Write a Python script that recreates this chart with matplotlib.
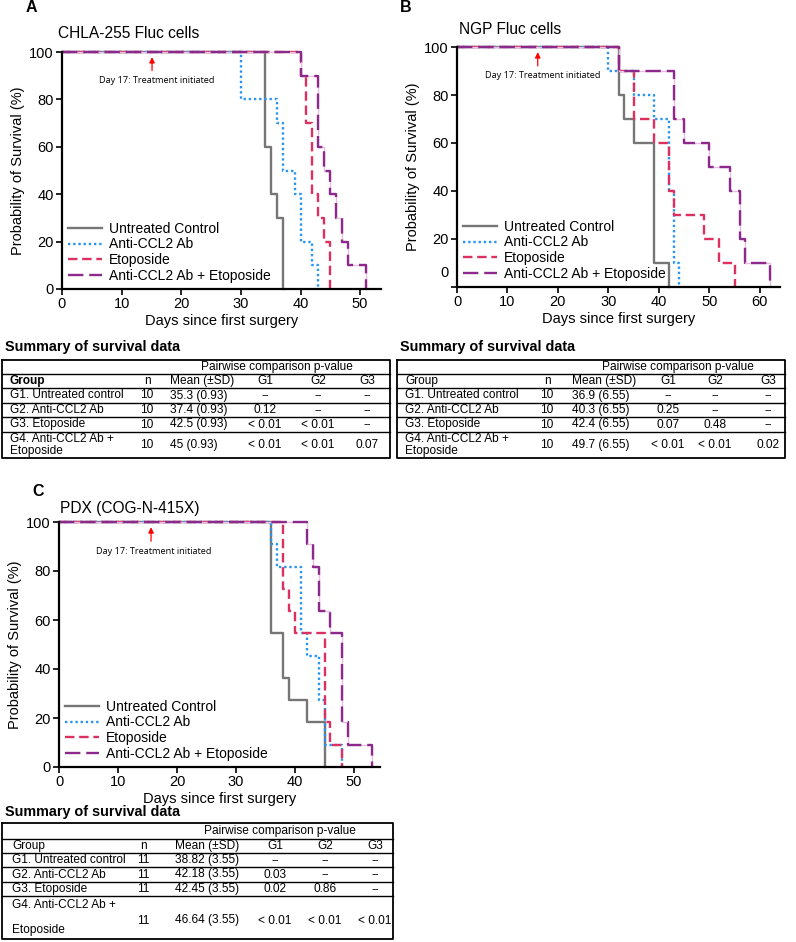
"""
Kaplan-Meier survival plots (3 models) + summary tables.
"""
import matplotlib.pyplot as plt
import matplotlib.transforms as mtransforms

plt.rcParams['font.family'] = ['Liberation Sans', 'DejaVu Sans']

# ── Data: survival steps (day, % surviving) ─────────────────────────────────
# Panel A - CHLA-255 Fluc cells
A_days_ctrl = [0, 34, 35, 36, 37]
A_surv_ctrl = [100, 60, 40, 30, 0]
A_days_ab = [0, 30, 36, 37, 39, 40, 42, 43]
A_surv_ab = [100, 80, 70, 50, 40, 20, 10, 0]
A_days_eto = [0, 40, 41, 42, 43, 44, 45]
A_surv_eto = [100, 90, 70, 40, 30, 20, 0]
A_days_combo = [0, 40, 43, 44, 45, 46, 47, 48, 51]
A_surv_combo = [100, 90, 60, 50, 40, 30, 20, 10, 0]

# Panel B - NGP Fluc cells
B_days_ctrl = [0, 32, 33, 35, 39, 42]
B_surv_ctrl = [100, 80, 70, 60, 10, 0]
B_days_ab = [0, 30, 35, 39, 42, 43, 44]
B_surv_ab = [100, 90, 80, 70, 40, 10, 0]
B_days_eto = [0, 32, 35, 39, 42, 43, 49, 52, 55]
B_surv_eto = [100, 90, 70, 60, 40, 30, 20, 10, 0]
B_days_combo = [0, 32, 43, 45, 50, 54, 56, 57, 62]
B_surv_combo = [100, 90, 70, 60, 50, 40, 20, 10, 0]

# Panel C - PDX (COG-N-415X), n = 11
C_days_ctrl = [0, 36, 38, 39, 42, 45]
C_surv_ctrl = [100, 54.5, 36.4, 27.3, 18.2, 0]
C_days_ab = [0, 36, 37, 41, 42, 44, 45, 48]
C_surv_ab = [100, 90.9, 81.8, 54.5, 45.5, 27.3, 9.1, 0]
C_days_eto = [0, 38, 39, 40, 45, 46, 48]
C_surv_eto = [100, 72.7, 63.6, 54.5, 18.2, 9.1, 0]
C_days_combo = [0, 42, 43, 44, 46, 48, 49, 53]
C_surv_combo = [100, 90.9, 81.8, 63.6, 54.5, 18.2, 9.1, 0]

group_labels = ["Untreated Control", "Anti-CCL2 Ab", "Etoposide",
                "Anti-CCL2 Ab + Etoposide"]
x_ticks = [0, 10, 20, 30, 40, 50]
x_ticks_B = [0, 10, 20, 30, 40, 50, 60]
y_ticks = [0, 20, 40, 60, 80, 100]

# ── Data: summary tables ─────────────────────────────────────────────────────
table_header = ["Group", "n", "Mean (\u00b1SD)", "G1", "G2", "G3"]
A_rows = [
    ["G1. Untreated control", "10", "35.3 (0.93)", "--", "--", "--"],
    ["G2. Anti-CCL2 Ab", "10", "37.4 (0.93)", "0.12", "--", "--"],
    ["G3. Etoposide", "10", "42.5 (0.93)", "< 0.01", "< 0.01", "--"],
    ["G4. Anti-CCL2 Ab +\nEtoposide", "10", "45 (0.93)", "< 0.01", "< 0.01", "0.07"],
]
B_rows = [
    ["G1. Untreated control", "10", "36.9 (6.55)", "--", "--", "--"],
    ["G2. Anti-CCL2 Ab", "10", "40.3 (6.55)", "0.25", "--", "--"],
    ["G3. Etoposide", "10", "42.4 (6.55)", "0.07", "0.48", "--"],
    ["G4. Anti-CCL2 Ab +\nEtoposide", "10", "49.7 (6.55)", "< 0.01", "< 0.01", "0.02"],
]
C_rows = [
    ["G1. Untreated control", "11", "38.82 (3.55)", "--", "--", "--"],
    ["G2. Anti-CCL2 Ab", "11", "42.18 (3.55)", "0.03", "--", "--"],
    ["G3. Etoposide", "11", "42.45 (3.55)", "0.02", "0.86", "--"],
    ["G4. Anti-CCL2 Ab +\nEtoposide", "11", "46.64 (3.55)", "< 0.01", "< 0.01", "< 0.01"],
]

# ── Styles ───────────────────────────────────────────────────────────────────
colors = ["#767676", "#2a95f0", "#dc3060", "#8c2a8c"]
styles = ["-", (0, (1, 1.2)), (0, (4, 2)), (0, (6.5, 2.5))]
W, H = 796, 942

fig = plt.figure(figsize=(W / 100, H / 100), dpi=100)


def px_axes(left, top, right, bottom):
    return fig.add_axes([left / W, 1 - bottom / H, (right - left) / W, (bottom - top) / H])


def km_panel(ax, curves, xmax, xticks, arrow_x, text_x):
    handles = []
    for k, ((days, surv), c, ls) in enumerate(zip(curves, colors, styles)):
        if k == 3:
            # faint dot between the long purple dashes
            ax.step(days, surv, where="post", color="#e6bfe0", lw=1.0,
                    clip_on=False)
        h, = ax.step(days, surv, where="post", color=c, linestyle=ls, lw=1.7,
                     clip_on=False)
        handles.append(h)
    ax.set_xlim(0, xmax)
    ax.set_ylim(0, 100)
    ax.set_xticks(xticks)
    ax.set_yticks(y_ticks)
    ax.tick_params(labelsize=10.5, width=1.2, length=4, pad=2)
    for s in ["top", "right"]:
        ax.spines[s].set_visible(False)
    for s in ["left", "bottom"]:
        ax.spines[s].set_linewidth(1.6)
    ax.set_xlabel("Days since first surgery", fontsize=10.5, labelpad=2)
    ax.set_ylabel("Probability of Survival (%)", fontsize=10.5, labelpad=3)
    ax.legend(handles, group_labels, loc="lower left", frameon=False, fontsize=10,
              handlelength=2.4, handletextpad=0.5, labelspacing=0.12,
              borderaxespad=0.25, borderpad=0.2)
    ax.annotate("", xy=(arrow_x, 99), xytext=(arrow_x, 91),
                arrowprops=dict(arrowstyle="-|>", color="red", lw=0.9,
                                mutation_scale=8))
    ax.text(text_x, 88, "Day 17: Treatment initiated", fontsize=6.6,
            family="Open Sans", ha="center", va="center")


axA = px_axes(62, 52, 381, 289)
km_panel(axA, [(A_days_ctrl, A_surv_ctrl), (A_days_ab, A_surv_ab),
               (A_days_eto, A_surv_eto), (A_days_combo, A_surv_combo)],
         53.5, x_ticks, 15.1, 15.8)

axB = px_axes(457, 47, 780, 287)
km_panel(axB, [(B_days_ctrl, B_surv_ctrl), (B_days_ab, B_surv_ab),
               (B_days_eto, B_surv_eto), (B_days_combo, B_surv_combo)],
         64, x_ticks_B, 16.0, 16.9)
# the "0" label sits a little high in the original
axB.set_yticklabels([""] + [str(v) for v in y_ticks[1:]])
axB.text(-0.025, 5.8, "0", transform=mtransforms.blended_transform_factory(axB.transAxes, axB.transData),
         ha="right", va="center", fontsize=10.5)

axC = px_axes(59, 522, 380, 767)
km_panel(axC, [(C_days_ctrl, C_surv_ctrl), (C_days_ab, C_surv_ab),
               (C_days_eto, C_surv_eto), (C_days_combo, C_surv_combo)],
         54.4, x_ticks, 15.6, 16.1)

# ── Overlay in pixel coords: panel letters, titles, tables ──────────────────
ov = fig.add_axes([0, 0, 1, 1])
ov.set_xlim(0, W)
ov.set_ylim(H, 0)
ov.axis("off")

for x, y, s in [(26, 8, "A"), (400, 8, "B"), (32, 492, "C")]:
    ov.text(x, y, s, fontsize=11.5, fontweight="bold", va="center")
for x, y, s in [(58, 33, "CHLA-255 Fluc cells"), (459, 29, "NGP Fluc cells"),
                (60, 509, "PDX (COG-N-415X)")]:
    ov.text(x, y, s, fontsize=11.2, va="center")


def draw_table(x0, x1, lines, title_y, rows, col_x, pair_x, bold_group, g4_spacing, g4_shift):
    fs = 8.6
    ov.text(x0 + 3, title_y, "Summary of survival data", fontsize=10.4,
            fontweight="bold", va="center")
    top, bot = lines[0], lines[-1]
    ov.plot([x0, x1, x1, x0, x0], [top, top, bot, bot, top], color="black", lw=1.3)
    for y in lines[1:-1]:
        ov.plot([x0, x1], [y, y], color="black", lw=1.0)
    ov.text(pair_x, (lines[0] + lines[1]) / 2, "Pairwise comparison p-value",
            fontsize=fs, ha="center", va="center")
    yh = (lines[1] + lines[2]) / 2
    ov.text(col_x[0], yh, table_header[0], fontsize=fs, va="center",
            fontweight="bold" if bold_group else "normal")
    ov.text(col_x[1], yh, table_header[1], fontsize=fs, va="center", ha="center")
    ov.text(col_x[2], yh, table_header[2], fontsize=fs, va="center", ha="left")
    for j in range(3, 6):
        ov.text(col_x[j], yh, table_header[j], fontsize=fs, va="center", ha="center")
    for i, row in enumerate(rows):
        yc = (lines[i + 2] + lines[i + 3]) / 2
        yv = yc + (g4_shift if i == 3 else 0)
        ov.text(col_x[0], yc, row[0], fontsize=fs, va="center",
                linespacing=g4_spacing if i == 3 else 1.0)
        ov.text(col_x[1], yv, row[1], fontsize=fs, va="center", ha="center")
        ov.text(col_x[2], yv, row[2], fontsize=fs, va="center", ha="left")
        for j in range(3, 6):
            fam = "DejaVu Sans" if row[j] == "--" else None
            ov.text(col_x[j], yv, row[j], fontsize=fs if fam is None else 7.5,
                    va="center", ha="center", family=fam)


draw_table(2, 390, [360, 374, 388, 403, 417, 432, 458], 347, A_rows,
           [10, 147, 170, 265, 318, 367], 277, True, 1.0, 0)
draw_table(397, 785, [360, 374, 388, 403, 417, 432, 458], 347, B_rows,
           [405, 547, 572, 668, 715, 768], 678, False, 1.0, 0)
draw_table(2, 393, [823, 839, 853, 867, 882, 896, 939], 812, C_rows,
           [12, 143, 175, 275, 325, 375], 280, False, 2.5, 3)

fig.savefig("out.png", dpi=100)
